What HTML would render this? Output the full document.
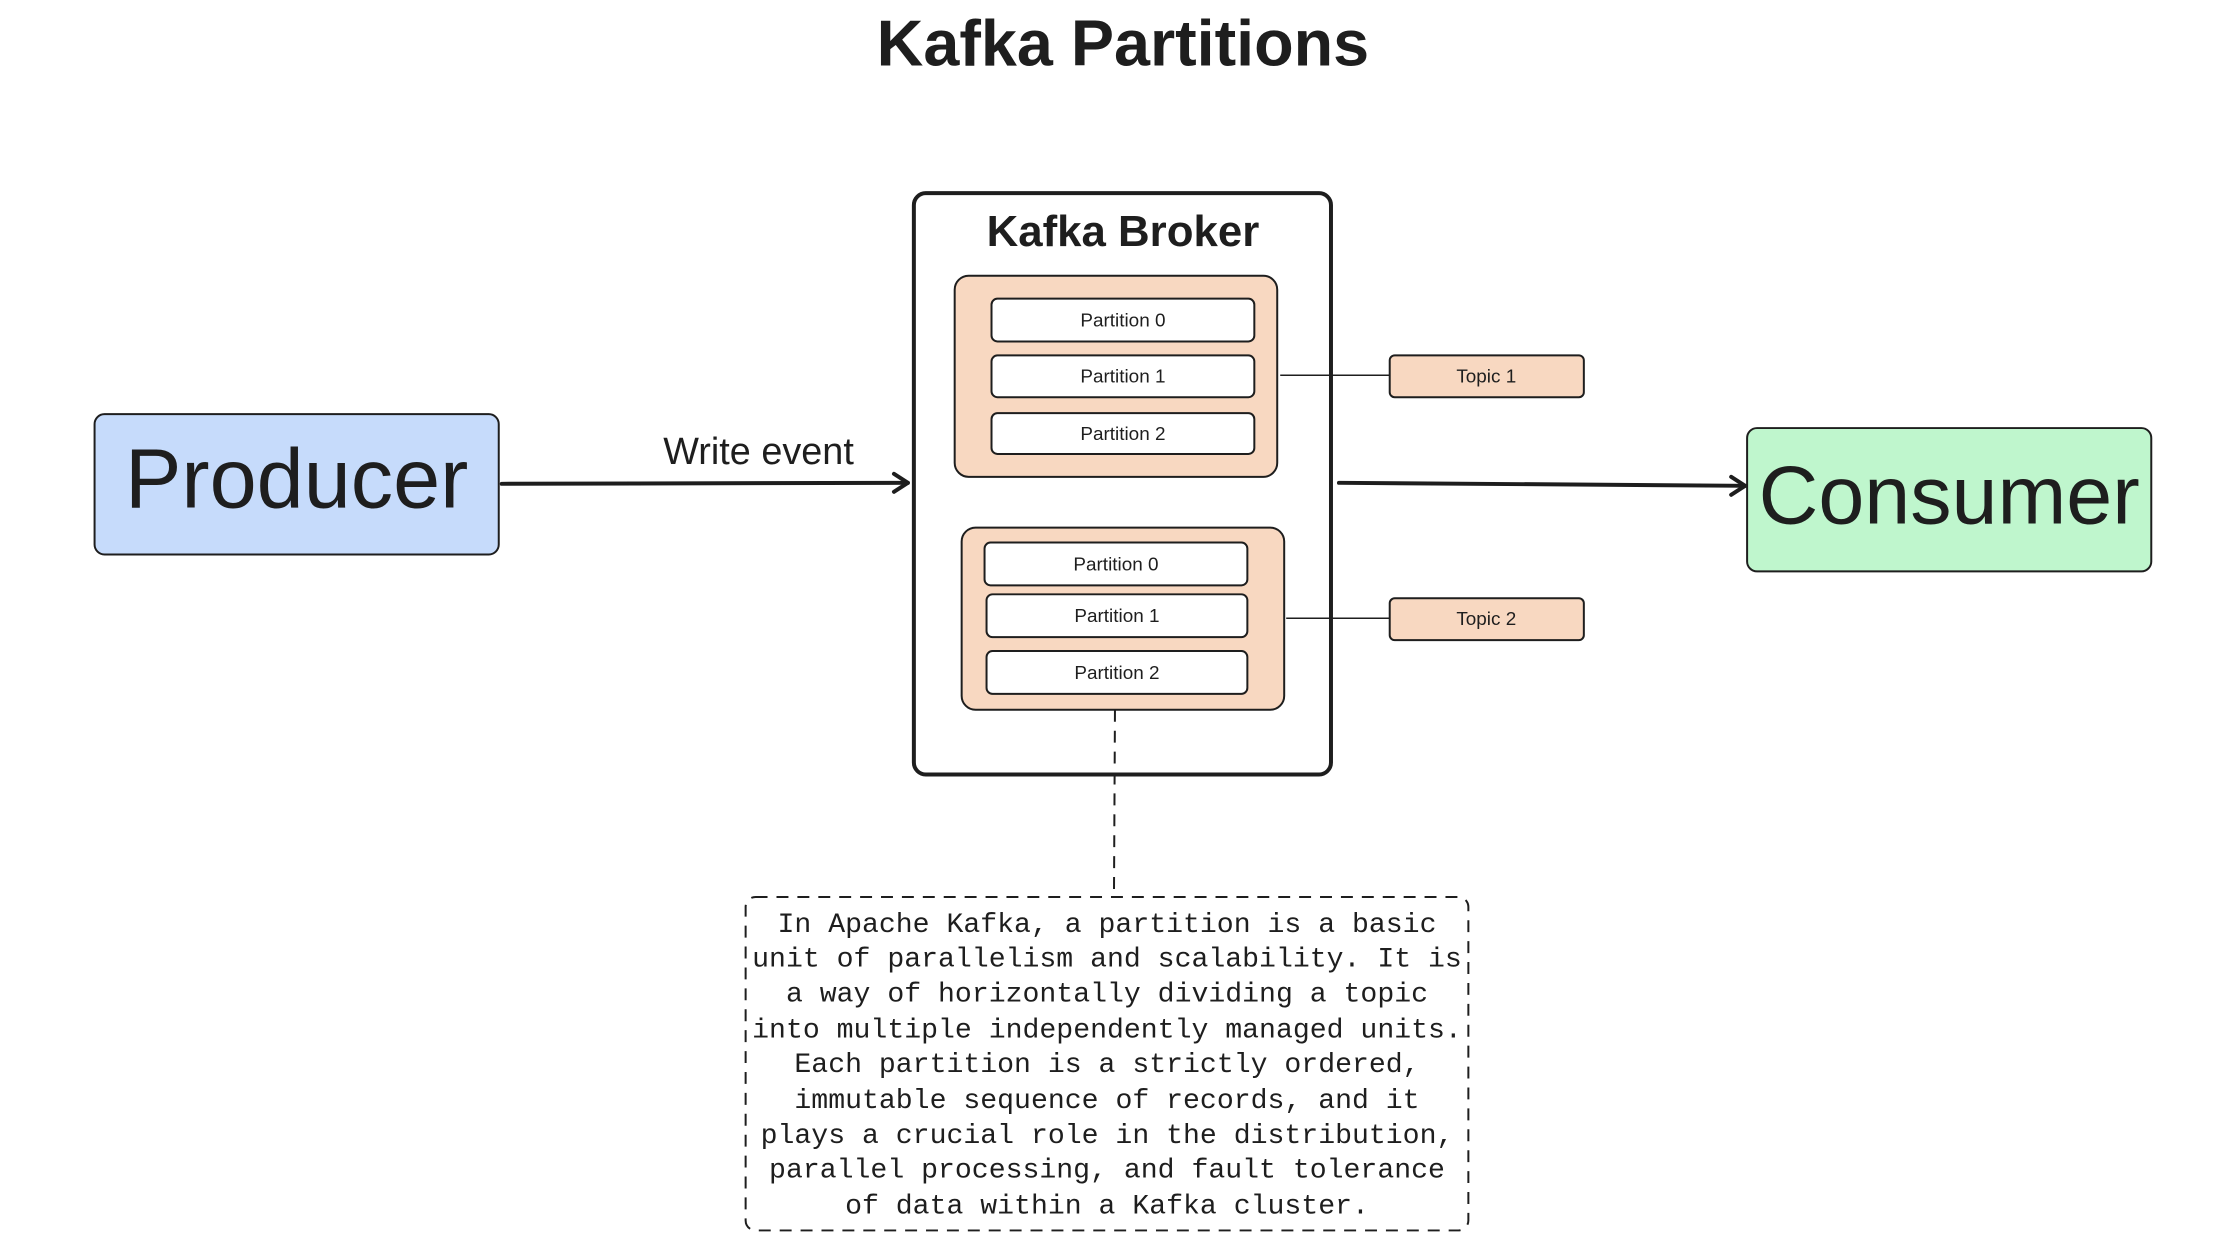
<!DOCTYPE html>
<html><head><meta charset="utf-8"><style>
html,body{margin:0;padding:0;background:#fff;}
svg{display:block;}
</style></head><body>
<svg width="2239" height="1255" viewBox="0 0 2239 1255" xmlns="http://www.w3.org/2000/svg" font-family="Liberation Sans, sans-serif" fill="#1e1e1e">
<g transform="scale(0.9955)">
<text x="1128" y="66" font-size="65" font-weight="bold" text-anchor="middle">Kafka Partitions</text>

<rect x="95" y="416" width="406" height="141" rx="10" fill="#c6dbfb" stroke="#1e1e1e" stroke-width="2"/>
<text x="298" y="510" font-size="85" text-anchor="middle">Producer</text>

<rect x="1755" y="430" width="406" height="144" rx="10" fill="#bff6cd" stroke="#1e1e1e" stroke-width="2"/>
<text x="1958" y="526" font-size="83" text-anchor="middle">Consumer</text>

<rect x="918" y="194" width="419" height="584" rx="12" fill="#fff" stroke="#1e1e1e" stroke-width="4"/>
<text x="1128" y="247" font-size="44" font-weight="bold" text-anchor="middle">Kafka Broker</text>

<rect x="959" y="277" width="324" height="202" rx="14" fill="#f8d8c1" stroke="#1e1e1e" stroke-width="2"/>
<g stroke="#1e1e1e" stroke-width="2" fill="#fff">
<rect x="996" y="300" width="264" height="43" rx="6"/>
<rect x="996" y="357" width="264" height="42" rx="6"/>
<rect x="996" y="415" width="264" height="41" rx="6"/>
</g>
<g font-size="19" text-anchor="middle">
<text x="1128" y="328">Partition 0</text>
<text x="1128" y="384">Partition 1</text>
<text x="1128" y="442">Partition 2</text>
</g>

<rect x="966" y="530" width="324" height="183" rx="14" fill="#f8d8c1" stroke="#1e1e1e" stroke-width="2"/>
<g stroke="#1e1e1e" stroke-width="2" fill="#fff">
<rect x="989" y="545" width="264" height="43" rx="6"/>
<rect x="991" y="597" width="262" height="43" rx="6"/>
<rect x="991" y="654" width="262" height="43" rx="6"/>
</g>
<g font-size="19" text-anchor="middle">
<text x="1121" y="573">Partition 0</text>
<text x="1122" y="625">Partition 1</text>
<text x="1122" y="682">Partition 2</text>
</g>

<line x1="1286" y1="377" x2="1396" y2="377" stroke="#1e1e1e" stroke-width="1.5"/>
<line x1="1292" y1="621" x2="1396" y2="621" stroke="#1e1e1e" stroke-width="1.5"/>
<rect x="1396" y="357" width="195" height="42" rx="5" fill="#f8d8c1" stroke="#1e1e1e" stroke-width="2"/>
<rect x="1396" y="601" width="195" height="42" rx="5" fill="#f8d8c1" stroke="#1e1e1e" stroke-width="2"/>
<g font-size="19" text-anchor="middle">
<text x="1493" y="384">Topic 1</text>
<text x="1493" y="628">Topic 2</text>
</g>

<g stroke="#1e1e1e" stroke-width="4" fill="none" stroke-linecap="round" stroke-linejoin="round">
<line x1="504" y1="486" x2="912" y2="485"/>
<polyline points="898,476 912,485 898,494"/>
<line x1="1345" y1="485" x2="1753" y2="488"/>
<polyline points="1739,479 1753,488 1739,497"/>
</g>
<text x="762" y="466" font-size="38" text-anchor="middle">Write event</text>

<line x1="1120" y1="713" x2="1119" y2="901" stroke="#1e1e1e" stroke-width="2" stroke-dasharray="12,9"/>
<rect x="749" y="901" width="726" height="335" rx="10" fill="none" stroke="#1e1e1e" stroke-width="2" stroke-dasharray="12,9"/>
<g font-family="Liberation Mono, monospace" font-size="28.3" text-anchor="middle">
<text x="1112" y="936">In Apache Kafka, a partition is a basic</text>
<text x="1112" y="971">unit of parallelism and scalability. It is</text>
<text x="1112" y="1006">a way of horizontally dividing a topic</text>
<text x="1112" y="1042">into multiple independently managed units.</text>
<text x="1112" y="1077">Each partition is a strictly ordered,</text>
<text x="1112" y="1113">immutable sequence of records, and it</text>
<text x="1112" y="1148">plays a crucial role in the distribution,</text>
<text x="1112" y="1183">parallel processing, and fault tolerance</text>
<text x="1112" y="1219">of data within a Kafka cluster.</text>
</g>
</g>
</svg>
</body></html>
